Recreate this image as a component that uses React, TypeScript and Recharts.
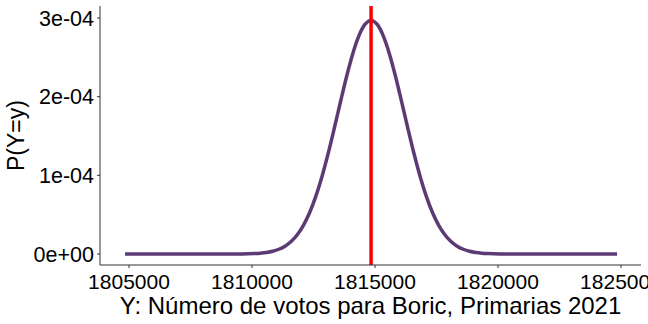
import React from 'react'
import { LineChart, Line, XAxis, YAxis, ReferenceLine } from 'recharts'

// votes for Boric (x) and probability mass (y)
const votos = [
  1804840, 1808840, 1809090, 1809340, 1809590, 1809840, 1810090, 1810340, 1810590,
  1810840, 1811090, 1811340, 1811590, 1811840, 1812090, 1812340, 1812590, 1812840,
  1813090, 1813340, 1813590, 1813840, 1814090, 1814340, 1814590, 1814840, 1815090,
  1815340, 1815590, 1815840, 1816090, 1816340, 1816590, 1816840, 1817090, 1817340,
  1817590, 1817840, 1818090, 1818340, 1818590, 1818840, 1819090, 1819340, 1819590,
  1819840, 1820090, 1820340, 1820590, 1820840, 1824840,
]
const prob = [
  0, 0.00000001, 0.00000003, 0.00000007, 0.00000014, 0.00000029, 0.00000057, 0.00000108,
  0.00000199, 0.00000352, 0.00000602, 0.00000995, 0.0000159, 0.0000245, 0.0000365, 0.0000525,
  0.000073, 0.000098, 0.0001271, 0.0001592, 0.0001926, 0.0002251, 0.0002541, 0.0002771,
  0.0002919, 0.000297, 0.0002919, 0.0002771, 0.0002541, 0.0002251, 0.0001926, 0.0001592,
  0.0001271, 0.000098, 0.000073, 0.0000525, 0.0000365, 0.0000245, 0.0000159, 0.00000995,
  0.00000602, 0.00000352, 0.00000199, 0.00000108, 0.00000057, 0.00000029, 0.00000014,
  0.00000007, 0.00000003, 0.00000001, 0,
]
const votosObservados = 1814840

const xTicks = [1805000, 1810000, 1815000, 1820000, 1825000]
const yTicks = [0, 0.0001, 0.0002, 0.0003]
const yTickLabels = ['0e+00', '1e-04', '2e-04', '3e-04']

const data = votos.map((v, i) => ({ votos: v, p: prob[i] }))

const font = '"Liberation Sans", Arial, sans-serif'
const axisColor = '#333333'

export default function App() {
  return (
    <div style={{ position: 'absolute', left: 0, top: 0, background: '#fff', fontFamily: font }}>
      <LineChart width={648} height={324} data={data} margin={{ top: 6, right: 7, bottom: 0, left: 0 }}>
        <XAxis
          dataKey="votos"
          type="number"
          domain={[1803821, 1825813]}
          ticks={xTicks}
          interval={0}
          allowDataOverflow
          height={59}
          tickSize={3}
          tickMargin={6}
          stroke={axisColor}
          tick={{ fill: '#000', fontSize: 21, fontFamily: font }}
          label={{
            value: 'Y: Número de votos para Boric, Primarias 2021',
            position: 'insideBottom',
            offset: 10,
            style: { fill: '#000', fontSize: 24, fontFamily: font },
          }}
        />
        <YAxis
          type="number"
          domain={[-0.000014, 0.0003153]}
          ticks={yTicks}
          interval={0}
          allowDataOverflow
          width={100}
          tickSize={3}
          tickMargin={3}
          stroke={axisColor}
          tickFormatter={(v: number) => yTickLabels[yTicks.indexOf(v)] ?? String(v)}
          tick={{ fill: '#000', fontSize: 21.5, fontFamily: font }}
          label={{
            value: 'P(Y=y)',
            angle: -90,
            position: 'insideLeft',
            offset: 16,
            style: { fill: '#000', fontSize: 23, fontFamily: font, textAnchor: 'middle' },
          }}
        />
        <Line
          type="monotone"
          dataKey="p"
          stroke="#5c3a74"
          strokeWidth={3.5}
          dot={false}
          isAnimationActive={false}
        />
        <ReferenceLine x={votosObservados} stroke="#ff0000" strokeWidth={3.5} />
      </LineChart>
    </div>
  )
}
